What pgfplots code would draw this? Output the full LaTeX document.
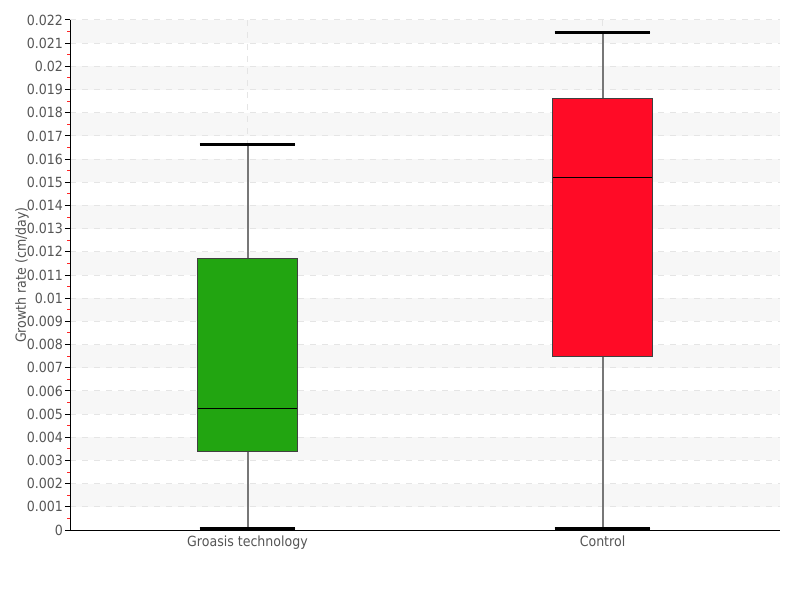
\documentclass[border=0pt]{standalone}
\usepackage{pgfplots}
\pgfplotsset{compat=1.18}
\usepgfplotslibrary{statistics}
\usetikzlibrary{calc}
\usepackage{fontspec}
\setmainfont{DejaVu Sans Condensed}
\definecolor{txt}{HTML}{555555}
\definecolor{boxgreen}{HTML}{22A511}
\definecolor{boxred}{HTML}{FF0B26}
\definecolor{band}{HTML}{F7F7F7}
\definecolor{whisk}{HTML}{777777}
\begin{document}
\begin{tikzpicture}
% y values are in units of 0.001 cm/day (labels show cm/day)
\begin{axis}[
  set layers, clip=false,
  scale only axis, width=355pt, height=255pt,
  xmin=0.5, xmax=2.5, ymin=0, ymax=22,
  axis x line*=bottom, axis y line*=left,
  axis line style={black, line width=0.5pt},
  xtick={1,2}, xticklabels={Groasis technology,Control},
  major x tick style={draw=none},
  ytick={0,1,...,22},
  yticklabels={0,0.001,0.002,0.003,0.004,0.005,0.006,0.007,0.008,0.009,0.01,
         0.011,0.012,0.013,0.014,0.015,0.016,0.017,0.018,0.019,0.02,0.021,0.022},
  minor y tick num=1,
  tick align=outside,
  major tick length=2.5pt,
  minor tick length=1.5pt,
  major y tick style={black, line width=0.5pt},
  minor y tick style={red!85, line width=0.5pt},
  tick label style={font=\fontsize{7}{8}\selectfont, text=txt},
  yticklabel style={xshift=2.5pt},
  xticklabel style={yshift=3pt},
  ylabel={Growth rate (cm/day)},
  ylabel style={font=\fontsize{7}{8}\selectfont, text=txt,
    at={(axis description cs:-0.0676,0.5)}, anchor=center},
  ymajorgrids, xmajorgrids,
  major grid style={dashed, black!10, line width=0.5pt},
  boxplot/draw direction=y,
  boxplot/every median/.style={black, line width=0.5pt},
  boxplot/draw/lower whisker/.code={
    \draw[whisk, line width=1pt]
      (boxplot box cs:\pgfplotsboxplotvalue{lower whisker},0.5) --
      (boxplot box cs:\pgfplotsboxplotvalue{lower quartile},0.5);
    \draw[black, line width=1.5pt]
      (boxplot whisker cs:\pgfplotsboxplotvalue{lower whisker},0) --
      (boxplot whisker cs:\pgfplotsboxplotvalue{lower whisker},1);
  },
  boxplot/draw/upper whisker/.code={
    \draw[whisk, line width=1pt]
      (boxplot box cs:\pgfplotsboxplotvalue{upper whisker},0.5) --
      (boxplot box cs:\pgfplotsboxplotvalue{upper quartile},0.5);
    \draw[black, line width=1.5pt]
      (boxplot whisker cs:\pgfplotsboxplotvalue{upper whisker},0) --
      (boxplot whisker cs:\pgfplotsboxplotvalue{upper whisker},1);
  },
]
\begin{pgfonlayer}{axis background}
\fill[band] (axis cs:0.5,1) rectangle (axis cs:2.5,2);
\fill[band] (axis cs:0.5,3) rectangle (axis cs:2.5,4);
\fill[band] (axis cs:0.5,5) rectangle (axis cs:2.5,6);
\fill[band] (axis cs:0.5,7) rectangle (axis cs:2.5,8);
\fill[band] (axis cs:0.5,9) rectangle (axis cs:2.5,10);
\fill[band] (axis cs:0.5,11) rectangle (axis cs:2.5,12);
\fill[band] (axis cs:0.5,13) rectangle (axis cs:2.5,14);
\fill[band] (axis cs:0.5,15) rectangle (axis cs:2.5,16);
\fill[band] (axis cs:0.5,17) rectangle (axis cs:2.5,18);
\fill[band] (axis cs:0.5,19) rectangle (axis cs:2.5,20);
\fill[band] (axis cs:0.5,21) rectangle (axis cs:2.5,22);
\end{pgfonlayer}

% Groasis technology
\addplot[boxplot prepared={lower whisker=0.05, lower quartile=3.4, median=5.26,
  upper quartile=11.7, upper whisker=16.65, draw position=1,
  box extend=0.28, whisker extend=0.27},
  fill=boxgreen, draw=black!75, line width=0.5pt, solid] coordinates {};
% Control
\addplot[boxplot prepared={lower whisker=0.05, lower quartile=7.5, median=15.2,
  upper quartile=18.6, upper whisker=21.45, draw position=2,
  box extend=0.28, whisker extend=0.27},
  fill=boxred, draw=black!75, line width=0.5pt, solid] coordinates {};
\end{axis}
\pgfresetboundingbox
\path[use as bounding box] ($(current axis.south west)+(-35pt,-35pt)$) rectangle ($(current axis.north east)+(10pt,10pt)$);
\end{tikzpicture}
\end{document}
